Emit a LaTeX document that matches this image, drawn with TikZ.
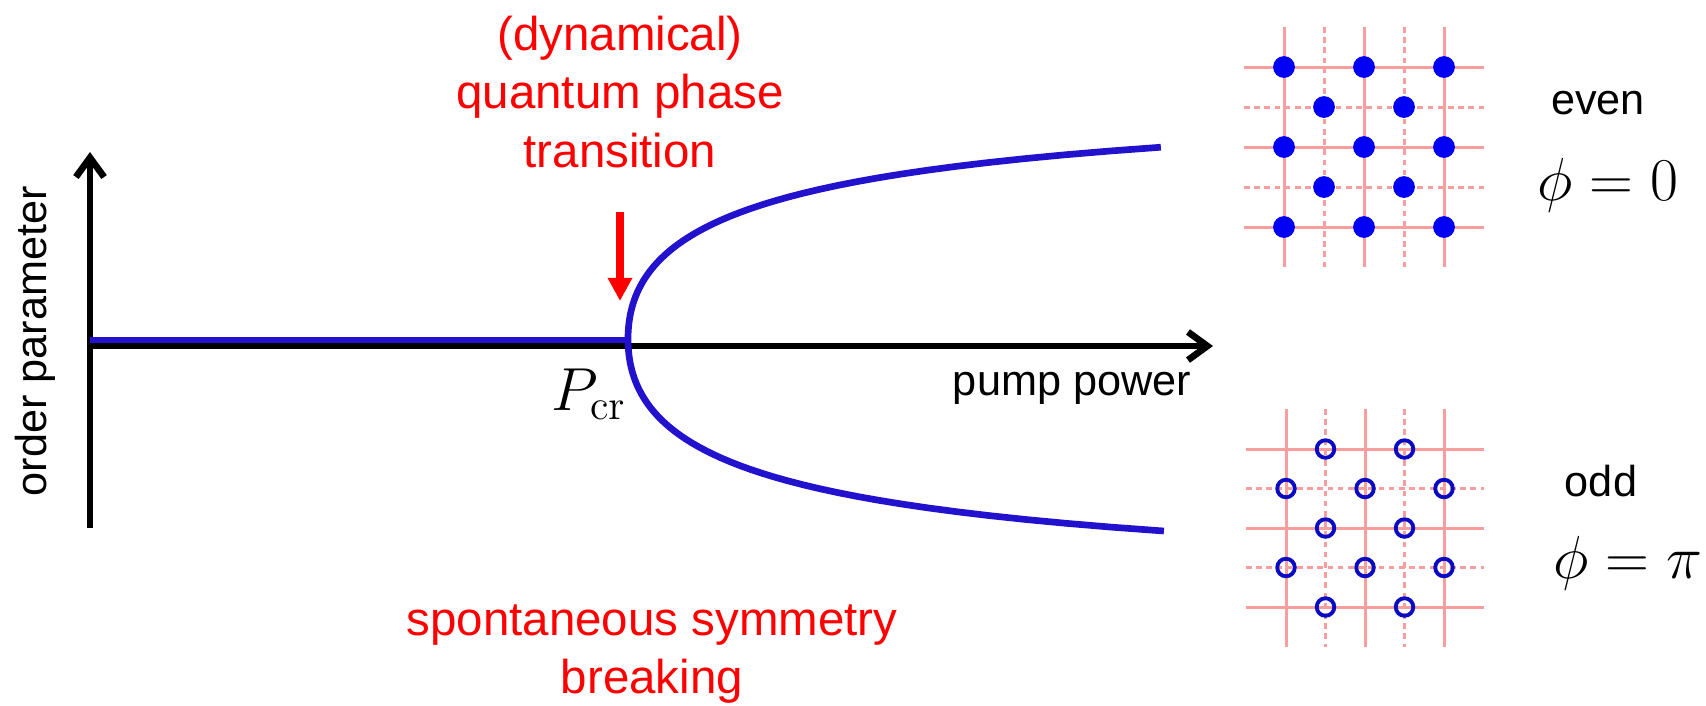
\documentclass[tikz,border=0pt]{standalone}
\usepackage[no-math]{fontspec}
\setmainfont{Liberation Sans}
\usetikzlibrary{arrows.meta}
\definecolor{qpblue}{RGB}{35,18,205}
\definecolor{qpdot}{RGB}{0,0,245}
\definecolor{qpring}{RGB}{10,10,195}
\definecolor{qppink}{RGB}{248,158,158}
\definecolor{qpred}{RGB}{255,0,0}

\begin{document}
\begin{tikzpicture}[x=0.01cm, y=-0.01cm,
  axis/.style={line width=1.9pt, -{Straight Barb[length=5.5pt,width=8pt]}},
  branch/.style={qpblue, line width=1.9pt},
  redtext/.style={text=qpred, font=\fontsize{13.5}{16.5}\selectfont, align=center},
  lbl/.style={font=\fontsize{12.3}{15}\selectfont, anchor=base},
  phase/.style={font=\fontsize{17}{20}\selectfont, anchor=base},
  solidline/.style={qppink, line width=0.85pt},
  dashline/.style={qppink, line width=0.85pt, dash pattern=on 1.6pt off 1.3pt},
  site/.style={fill=qpdot},
  ring/.style={draw=qpring, line width=1.1pt}]
\useasboundingbox (0,0) rectangle (1706,705);

% axes
\coordinate (origin) at (90,346);
\coordinate (ytop) at (90,152);
\coordinate (ybot) at (90,528);
\coordinate (xend) at (1213,346);
\draw[axis] (ybot) -- (ytop);
\draw[axis] (origin) -- (xend);

% order parameter: flat part and the two branches
\draw[branch] (90,340) -- (628,340);
\draw[branch] plot[domain=-1:1, samples=101, variable=\t]
  ({628+168.8*\t*\t/(1.315-abs(\t))}, {339-192*\t});

% transition marker
\coordinate (qptail) at (620,212);
\coordinate (qphead) at (620,301);
\draw[qpred, line width=2.2pt, -{Triangle[length=6.6pt,width=6.6pt]}] (qptail) -- (qphead);

\node[redtext] (qpt) at (620,92) {(dynamical)\\quantum phase\\transition};
\node[redtext] (ssb) at (652,654) {spontaneous symmetry\\breaking};
\node[lbl, rotate=90] (ordpar) at (47,341) {order parameter};
\node[lbl] (pump) at (1072,395) {pump power};
\node[phase] (pcr) at (589,410) {$P_{\mathrm{cr}}$};

% even lattice
\foreach \i in {0,1,2} {
  \draw[solidline] (1244,67+80*\i) -- (1484,67+80*\i);
  \draw[solidline] (1284+80*\i,27) -- (1284+80*\i,267);
}
\foreach \i in {0,1} {
  \draw[dashline] (1244,107+80*\i) -- (1484,107+80*\i);
  \draw[dashline] (1324+80*\i,27) -- (1324+80*\i,267);
}
\foreach \i in {0,1,2}
  \foreach \j in {0,1,2}
    \fill[site] (1284+80*\i,67+80*\j) circle (3.1pt);
\foreach \i in {0,1}
  \foreach \j in {0,1}
    \fill[site] (1324+80*\i,107+80*\j) circle (3.1pt);
\node[lbl] (even) at (1598,114) {even};
\node[phase] (phieven) at (1608,200) {$\phi=0$};

% odd lattice
\foreach \i in {0,1,2} {
  \draw[solidline] (1246,449+79*\i) -- (1484,449+79*\i);
  \draw[solidline] (1286+79*\i,409) -- (1286+79*\i,647);
}
\foreach \i in {0,1} {
  \draw[dashline] (1246,488.5+79*\i) -- (1484,488.5+79*\i);
  \draw[dashline] (1325.5+79*\i,409) -- (1325.5+79*\i,647);
}
\foreach \i in {0,1}
  \foreach \j in {0,1,2}
    \draw[ring] (1325.5+79*\i,449+79*\j) circle (2.5pt);
\foreach \i in {0,1,2}
  \foreach \j in {0,1}
    \draw[ring] (1286+79*\i,488.5+79*\j) circle (2.5pt);
\node[lbl] (odd) at (1601,496) {odd};
\node[phase] (phiodd) at (1628,578) {$\phi=\pi$};
\end{tikzpicture}
\end{document}
